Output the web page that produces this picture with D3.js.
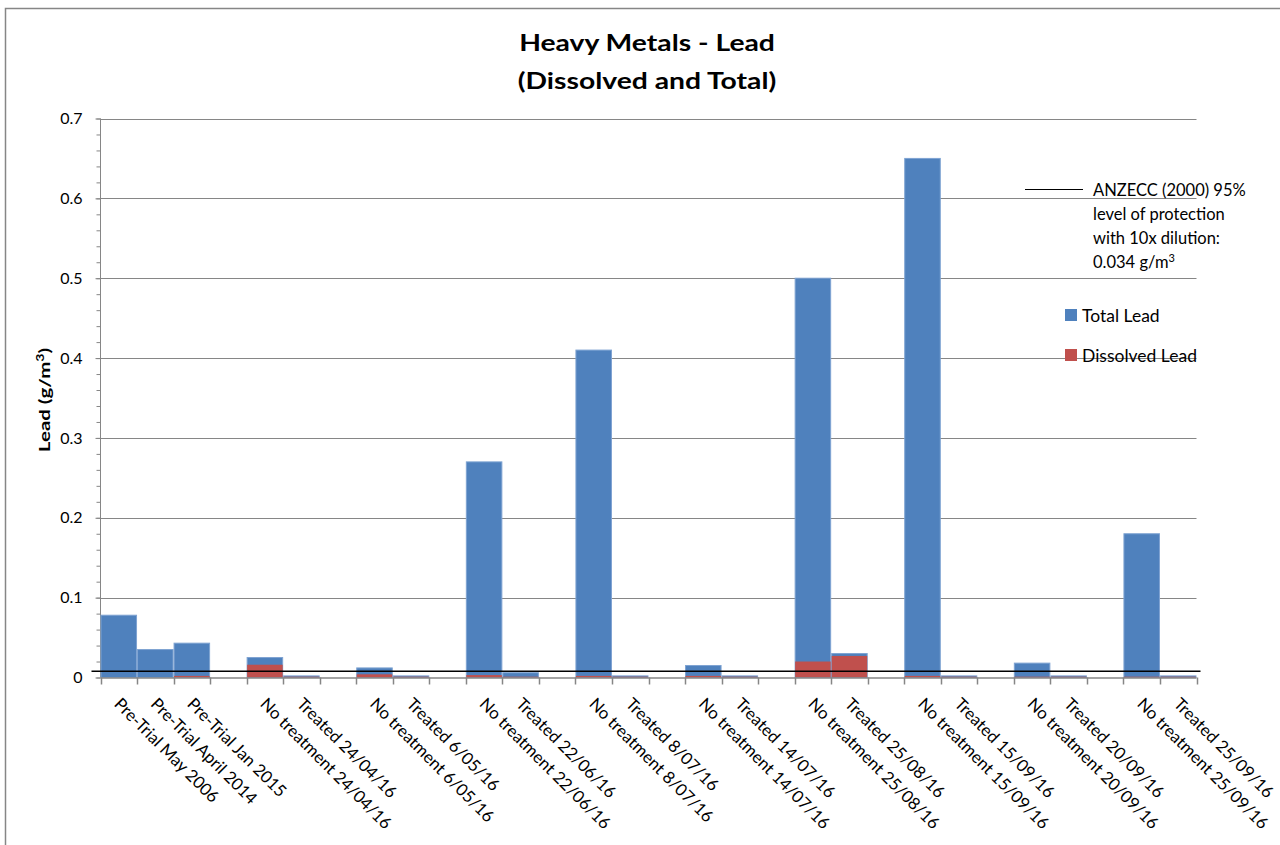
<!DOCTYPE html>
<html>
<head>
<meta charset="utf-8">
<script src="https://cdn.jsdelivr.net/npm/d3@7"></script>
<style>
  html, body { margin: 0; padding: 0; background: #fff; }
  svg text { font-family: Lato, "Open Sans", sans-serif; fill: #000; }
</style>
</head>
<body>
<svg id="chart" width="1280" height="845"></svg>
<script>
// Sampling occasions (blank entries are spacer slots between sampling dates)
const categories = [
  "Pre-Trial May 2006", "Pre-Trial April 2014", "Pre-Trial Jan 2015", "",
  "No treatment 24/04/16", "Treated 24/04/16", "",
  "No treatment 6/05/16", "Treated 6/05/16", "",
  "No treatment 22/06/16", "Treated 22/06/16", "",
  "No treatment 8/07/16", "Treated 8/07/16", "",
  "No treatment 14/07/16", "Treated 14/07/16", "",
  "No treatment 25/08/16", "Treated 25/08/16", "",
  "No treatment 15/09/16", "Treated 15/09/16", "",
  "No treatment 20/09/16", "Treated 20/09/16", "",
  "No treatment 25/09/16", "Treated 25/09/16"
];

// Total lead, g/m3
const totalLead = [
  0.078, 0.035, 0.043, null,
  0.025, 0.002, null,
  0.012, 0.002, null,
  0.27, 0.006, null,
  0.41, 0.002, null,
  0.015, 0.002, null,
  0.5, 0.030, null,
  0.65, 0.002, null,
  0.018, 0.002, null,
  0.18, 0.002
];

// Dissolved lead, g/m3
const dissolvedLead = [
  null, null, 0.002, null,
  0.016, 0.001, null,
  0.004, 0.001, null,
  0.003, 0.001, null,
  0.002, 0.001, null,
  0.002, 0.001, null,
  0.020, 0.027, null,
  0.002, 0.001, null,
  0.001, 0.001, null,
  0.001, 0.001
];

// ANZECC (2000) guideline value, plotted against its own (hidden) secondary axis
const guidelineValue = 0.034;
const secondaryAxisMax = 3;

const yTicks = [0, 0.1, 0.2, 0.3, 0.4, 0.5, 0.6, 0.7];
const yMinorTicks = d3.range(0, 0.7001, 0.02);

const svg = d3.select("#chart");
const plotLeft = 100.5, plotRight = 1196.5, plotTop = 118.5, plotBottom = 677.5;
const grey = "#868686";
const blue = "#4F81BD", red = "#C0504D";

// Outer chart border
svg.append("rect")
  .attr("x", 5.5).attr("y", 8.5)
  .attr("width", 1400).attr("height", 900)
  .attr("fill", "none").attr("stroke", grey).attr("stroke-width", 1.5);

const x = d3.scaleBand()
  .domain(d3.range(categories.length))
  .range([plotLeft, plotRight])
  .padding(0);

const y = d3.scaleLinear().domain([0, 0.7]).range([plotBottom, plotTop]);
const y2 = d3.scaleLinear().domain([0, secondaryAxisMax]).range([plotBottom, plotTop]);

// Horizontal gridlines
svg.append("g")
  .selectAll("line")
  .data(yTicks.slice(1))
  .join("line")
  .attr("x1", plotLeft).attr("x2", plotRight)
  .attr("y1", d => Math.round(y(d)) + 0.5).attr("y2", d => Math.round(y(d)) + 0.5)
  .attr("stroke", grey).attr("stroke-width", 1);

// Y axis with minor and major ticks
const yAxisMinor = d3.axisLeft(y).tickValues(yMinorTicks).tickSize(4).tickFormat("");
svg.append("g")
  .attr("transform", `translate(${plotLeft},0)`)
  .call(yAxisMinor)
  .call(g => g.select(".domain").remove())
  .call(g => g.selectAll("line").attr("stroke", grey));

const yAxis = d3.axisLeft(y).tickValues(yTicks).tickSize(5).tickPadding(13)
  .tickFormat(d => d === 0 ? "0" : d3.format(".1f")(d));
svg.append("g")
  .attr("transform", `translate(${plotLeft},0)`)
  .call(yAxis)
  .call(g => g.select(".domain").attr("stroke", grey).attr("d", `M0,${plotTop}V${plotBottom}`))
  .call(g => g.selectAll("line").attr("stroke", grey))
  .call(g => g.selectAll("text")
    .attr("font-family", "Lato, sans-serif").attr("font-size", 16).attr("fill", "#000"));

// Total lead bars
svg.append("g")
  .selectAll("rect")
  .data(totalLead.map((v, i) => ({ i, v })).filter(d => d.v != null))
  .join("rect")
  .attr("x", d => x(d.i) + 0.5)
  .attr("width", x.bandwidth() - 1)
  .attr("y", d => y(d.v))
  .attr("height", d => plotBottom - y(d.v))
  .attr("fill", blue)
  .attr("stroke", "#7ea3d2").attr("stroke-width", 1);

// Dissolved lead bars, drawn over the totals
svg.append("g")
  .selectAll("rect")
  .data(dissolvedLead.map((v, i) => ({ i, v })).filter(d => d.v != null))
  .join("rect")
  .attr("x", d => x(d.i) + 0.5)
  .attr("width", x.bandwidth() - 1)
  .attr("y", d => y(d.v))
  .attr("height", d => plotBottom - y(d.v))
  .attr("fill", red);

// X axis line and boundary ticks
svg.append("line")
  .attr("x1", plotLeft).attr("x2", plotRight)
  .attr("y1", plotBottom + 0.5).attr("y2", plotBottom + 0.5)
  .attr("stroke", grey).attr("stroke-width", 1.5);
svg.append("g")
  .selectAll("line")
  .data(d3.range(categories.length + 1))
  .join("line")
  .attr("x1", d => Math.round(plotLeft + d * x.step()) + 0.5)
  .attr("x2", d => Math.round(plotLeft + d * x.step()) + 0.5)
  .attr("y1", plotBottom).attr("y2", plotBottom + 7)
  .attr("stroke", grey).attr("stroke-width", 1.5);

// Guideline line (secondary axis)
svg.append("line")
  .attr("x1", plotLeft - 9).attr("x2", plotRight + 4)
  .attr("y1", y2(guidelineValue)).attr("y2", y2(guidelineValue))
  .attr("stroke", "#000").attr("stroke-width", 1.5);

// Rotated category labels
svg.append("g")
  .selectAll("text")
  .data(categories.map((c, i) => ({ c, i })).filter(d => d.c !== ""))
  .join("text")
  .attr("transform", d => `translate(${x(d.i) + x.bandwidth() / 2 + 3},${plotBottom + 19}) rotate(45)`)
  .attr("dy", "0.72em")
  .attr("font-size", 16.8)
  .text(d => d.c);

// Title (wide bold face)
const title = svg.append("text")
  .attr("transform", "translate(647,0) scale(1.23,1)")
  .attr("text-anchor", "middle")
  .attr("font-weight", "bold").attr("font-size", 23);
title.append("tspan").attr("x", 0).attr("y", 51).text("Heavy Metals - Lead");
title.append("tspan").attr("x", 0).attr("y", 89).text("(Dissolved and Total)");

// Y axis title
const yTitle = svg.append("text")
  .attr("transform", "translate(50,400) rotate(-90) scale(1.28,1)")
  .attr("text-anchor", "middle")
  .attr("font-weight", "bold").attr("font-size", 16);
yTitle.append("tspan").text("Lead (g/m");
yTitle.append("tspan").attr("dy", -6).attr("font-size", 11).text("3");
yTitle.append("tspan").attr("dy", 6).text(")");

// Legend: guideline entry
const lg = svg.append("g");
lg.append("line")
  .attr("x1", 1025).attr("x2", 1083).attr("y1", 189.5).attr("y2", 189.5)
  .attr("stroke", "#000").attr("stroke-width", 1.2);
const gl = lg.append("text").attr("font-size", 16.5);
gl.append("tspan").attr("x", 1093).attr("y", 196).text("ANZECC (2000) 95%");
gl.append("tspan").attr("x", 1093).attr("y", 220).text("level of protection");
gl.append("tspan").attr("x", 1093).attr("y", 244).text("with 10x dilution:");
gl.append("tspan").attr("x", 1093).attr("y", 268).text("0.034 g/m");
gl.append("tspan").attr("dy", -6).attr("font-size", 11).text("3");

// Legend: series entries
const series = [{ name: "Total Lead", color: blue }, { name: "Dissolved Lead", color: red }];
lg.selectAll("g.entry")
  .data(series)
  .join("g")
  .attr("class", "entry")
  .attr("transform", (d, i) => `translate(1065,${309 + i * 40})`)
  .call(g => g.append("rect").attr("width", 12).attr("height", 12).attr("fill", d => d.color))
  .call(g => g.append("text").attr("x", 17).attr("y", 12.5).attr("font-size", 17.5).text(d => d.name));
</script>
</body>
</html>
